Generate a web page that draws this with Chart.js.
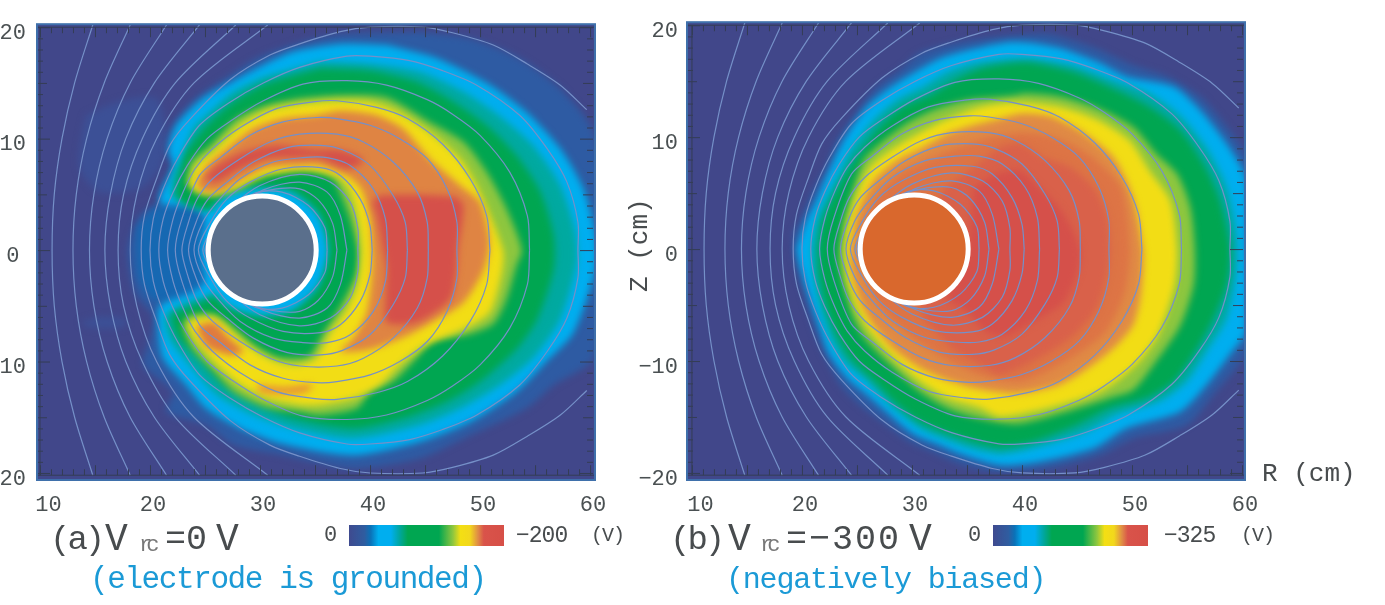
<!DOCTYPE html>
<html>
<head>
<meta charset="utf-8">
<script src="https://cdn.jsdelivr.net/npm/chart.js@4"></script>
<style>
  body { margin: 0; background: #fff; width: 1385px; height: 605px; overflow: hidden; position: relative; }
  canvas { position: absolute; }
  .t { position: absolute; font-family: "Liberation Mono", monospace; color: #484c4e; line-height: 40px; height: 40px; white-space: pre; }
  .blue { color: #1b9ad6; }
</style>
</head>
<body>
<canvas id="panelA" style="left:0;top:0" width="620" height="530"></canvas>
<canvas id="panelB" style="left:625px;top:0" width="660" height="530"></canvas>
<canvas id="barA" style="left:349px;top:525px" width="155" height="21"></canvas>
<canvas id="barB" style="left:993px;top:525px" width="155" height="21"></canvas>

<div class="t" style="left:50px;top:520px;font-size:34px;letter-spacing:-3px">(a)</div>
<div class="t" style="left:105px;top:520px;font-size:38px">V</div>
<div class="t" style="left:139px;top:526px;font-size:22px;letter-spacing:-6px;color:#777">rc</div>
<div class="t" style="left:165px;top:520px;font-size:35px">=0</div>
<div class="t" style="left:216px;top:520px;font-size:38px">V</div>
<div class="t" style="left:324px;top:516px;font-size:22px">0</div>
<div class="t" style="left:516px;top:516px;font-size:23px;letter-spacing:-1px">−200</div>
<div class="t" style="left:591px;top:516px;font-size:20px;letter-spacing:-1px">(V)</div>
<div class="t blue" style="left:90px;top:560px;font-size:31px;letter-spacing:-1.4px">(electrode is grounded)</div>

<div class="t" style="left:670px;top:520px;font-size:34px;letter-spacing:-3px">(b)</div>
<div class="t" style="left:728px;top:520px;font-size:38px">V</div>
<div class="t" style="left:760px;top:526px;font-size:22px;letter-spacing:-6px;color:#777">rc</div>
<div class="t" style="left:786px;top:520px;font-size:35px;letter-spacing:2px">=−300</div>
<div class="t" style="left:909px;top:520px;font-size:38px">V</div>
<div class="t" style="left:968px;top:516px;font-size:22px">0</div>
<div class="t" style="left:1164px;top:516px;font-size:23px;letter-spacing:-1px">−325</div>
<div class="t" style="left:1241px;top:516px;font-size:20px;letter-spacing:-1px">(V)</div>
<div class="t blue" style="left:726px;top:560px;font-size:30px;letter-spacing:-1.2px">(negatively biased)</div>

<div class="t" style="left:1262px;top:454px;font-size:26px">R (cm)</div>
<div class="t" style="left:590px;top:222px;width:100px;font-size:26px;transform:rotate(-90deg);transform-origin:50% 50%">Z (cm)</div>

<script>
const rTicks = [10, 20, 30, 40, 50, 60];
const zTicks = [20, 10, 0, -10, -20];
const zLabelsA = ['20', '10', '0', '10', '20'];
const zLabelsB = ['20', '10', '0', '\u221210', '\u221220'];
const electrodeCentre = [[30.2, 0]];
const electrodeColourA = '#5a6f8c';
const electrodeColourB = '#d9682d';

// flux surfaces, upper half only, left crossing first. same for both panels
const fluxLines = [
  [[11.1,0],[11.3,5],[12,10],[13.15,15],[14.8,20.2]],
  [[13,0],[13.3,5],[14.24,10],[15.84,15],[18.2,20.2]],
  [[14.5,0],[14.9,5],[16.1,10],[18.2,15],[21.5,20.2]],
  [[15.9,0],[16.4,5],[17.8,10],[20.4,15],[24.5,20.2]],
  [[17.1,0],[17.6,5],[19.3,10],[22.3,15],[27.8,20.2]],
  [[18.2,0],[18.8,5],[20.6,10],[24,15],[30.7,20.2]],
  [[19.2,0],[19.5,3.1],[20.6,6.4],[21.8,9.4],[23.6,11.7],[27.3,15.3],[30.9,17.5],[33.6,18.5],[37.3,19.6],[40,20],[44.8,20],[47.5,19.5],[51.2,18.4],[54.3,16.7],[57.3,14.8],[59.7,12.6]],
  [[20,0],[20.3,2.8],[21.2,5.5],[22.5,8.2],[24.5,11.2],[27.3,13.3],[30.3,15],[33.6,16.4],[37.9,17.4],[40,17.4],[43.6,17],[46.6,16.1],[49.7,14.8],[53.6,12.1],[56.1,9.1],[57.9,6.1],[58.9,2.5],[58.9,0]],
  [[20.8,0],[21.2,2.8],[22.1,5.2],[23.4,7.6],[25.2,10],[27.5,11.7],[30.3,13.4],[33.9,14.9],[37.9,15.2],[41.5,14.8],[45.2,13.5],[47.5,12.2],[50,10.3],[52.7,7],[54.3,3.1],[54.5,0]],
  [[21.6,0],[22.1,2.8],[23,5.2],[24.1,7.3],[25.7,9.1],[28.2,11],[31.5,12.7],[34.8,13.3],[37,13.4],[40.6,12.8],[43.4,11.8],[46.6,9.5],[49.1,6.4],[50.6,3.1],[50.9,0]],
  [[22.3,0],[22.9,2.8],[24.5,6.7],[26.4,8.3],[29.1,10.3],[32.1,11.5],[35.2,11.9],[37,11.8],[40,11.2],[42.7,10],[45.2,8.2],[47,5.5],[47.9,2.5],[47.9,0]],
  [[22.9,0],[23.5,2.5],[24.3,4.6],[25.7,6.4],[28.2,8.2],[30.9,9.7],[33.6,10.4],[37,10.4],[39.4,9.7],[42.1,7.9],[44.3,5.2],[45.2,2.5],[45.3,0]],
  [[23.5,0],[24.3,2.8],[25.3,4.6],[27,6.1],[29.4,7.9],[32.5,9.2],[35.5,9.4],[37.5,9],[40,7.6],[42.1,4.9],[43.2,2.5],[43.4,0]],
  [[24,0],[24.8,2.5],[26.1,4.3],[28.2,6.4],[31.2,7.9],[33.9,8.3],[36.1,8.3],[38.2,7.6],[40.3,5.5],[41.4,2.8],[41.6,0]],
  [[24.4,0],[25.5,2.5],[27,4.6],[29.1,6.1],[32.1,7.3],[35.5,7.4],[37.3,6.7],[39.1,4.6],[40,2.2],[40.2,0]],
  [[24.8,0],[25.9,2.2],[27.5,4],[30,5.8],[33.6,6.8],[36.4,6.1],[38.2,4.3],[38.9,1.9],[38.9,0]],
  [[25,0],[26,1.9],[27.9,3.7],[30.3,5.4],[33.6,6.1],[36.1,5.2],[37.3,3.1],[37.9,0]],
  [[25.2,0],[26.5,2.5],[28.5,4.6],[31,5.4],[33.6,5.5],[35.3,4.5],[36.6,2.4],[37,0]],
  [[25.1,0],[27,3],[29.5,5.1],[32,5.2],[34.4,4],[35.9,2],[36.1,0]]
];

// colour band outlines in (R, Z), outermost first
const aFaintUp = [[14.2,12.1],[17,13.3],[20.6,13.6],[21.5,10],[20.9,7.3],[19.1,5.5],[15.4,5.2],[13.6,7.3],[13.8,10.3]];
const aFaintDown = [[13.6,-6.5],[15.4,-6],[17.9,-6.2],[17.6,-6.9],[14.8,-7]];
const aBlue = [[44.5,19.6],[49.1,19],[53.6,17.2],[57.3,14.5],[60.3,10.6],[61.5,0],[60.3,-9.7],[56.7,-12.1],[54.2,-14.2],[48.5,-16.9],[44.5,-18.7],[38.5,-19.6],[32.1,-18.4],[27.6,-17.5],[25.1,-15.7],[21.5,-14.5],[22.1,-12.7],[19.4,-10.3],[20,-8],[20.3,-5.9],[18.8,-4.1],[18.2,-2],[18,0],[18.3,1.3],[19.1,3.1],[20.8,4.3],[20.9,5.5],[22.1,7.6],[21.5,9],[22.1,11.2],[24.2,13.6],[27,15.5],[29.7,17.2],[33.6,18.6],[37.3,19.4]];
const aLeftBlue = [[18.8,2],[20.5,3.8],[24.5,3.8],[25.5,0],[24.5,-3.6],[20.5,-4.5],[19,-2.5]];
const aCyan = [[41.5,18.4],[46.1,17.2],[50.6,15],[54.2,12.4],[57.3,9.1],[59.4,5.5],[60.5,1.3],[60.5,-1.7],[58.5,-7.4],[56,-10],[53.3,-12.7],[49.1,-15.4],[44.5,-17.2],[38.5,-18.4],[32.1,-17.4],[28.2,-16],[25.1,-14.2],[23.3,-12.1],[21.2,-9.7],[20.8,-7.4],[20.9,-5],[24,-3.7],[25.5,-2.2],[25.2,0],[25.5,2.2],[24,3.8],[20.9,4.3],[22.1,7.6],[21.7,9],[22.4,11.2],[24.8,13.6],[27.3,15],[30.3,16.6],[33,17.8],[37.3,18.5]];
const aTeal = [[35.5,16.9],[40,16.7],[44.5,16],[48.5,14.2],[51.8,12],[54.8,9.4],[57.3,5.8],[58.6,1.9],[58.8,-1.1],[57.3,-6.2],[54.8,-9.7],[51.8,-12.1],[48.2,-14.2],[44.5,-15.7],[38.5,-16.9],[33,-16],[29.4,-14.8],[26.1,-13],[23.6,-10.3],[21.8,-8],[21.4,-5.9],[23.3,-4.7],[25.8,-3.8],[27,0],[25.8,3.8],[23.3,4.8],[22.1,4.6],[22.1,6.7],[22.9,8.2],[23.9,10.9],[25.8,12.7],[27.6,14.2],[30.3,15.5],[33.6,16.4]];
const aGreen = [[35.5,16.3],[40,16.1],[44.2,15.1],[47.6,13.3],[50.6,11.2],[53.3,8.5],[55.5,5.2],[56.7,1.3],[56.7,-1.7],[55.2,-6.2],[53.3,-8.9],[50,-11.8],[47,-13.6],[43,-15.1],[38.5,-16],[33,-15.1],[29.4,-13.6],[26.7,-12.1],[24.5,-9.7],[22.7,-8],[22,-5.9],[23.9,-5],[26,-3.9],[27.3,0],[26.1,3.1],[23.3,4],[22.4,4.9],[22.9,7.6],[23.3,8.8],[25.2,11.2],[27.6,13.3],[30.3,14.8],[33.6,15.8]];
const aHalo = [[24.6,0],[25.2,-3],[27,-5],[30,-5.9],[33,-5.4],[35.3,-3.2],[36.2,0],[35.3,3.2],[33,5.2],[30,5.6],[27,5],[25.2,3]];
const aLime = [[23.3,6],[23.8,7.9],[25.5,9.4],[27.9,11.8],[30.6,13],[33.6,13.6],[37.3,13.9],[41.5,13.7],[45.4,11.5],[48.5,9.7],[50.6,7],[52.4,3.7],[53.8,0],[53.3,-1.4],[52.4,-4.4],[51.2,-6.6],[48.8,-7.6],[45.8,-8.1],[44.2,-9.7],[42.1,-11.8],[40,-12.7],[38.8,-14.2],[35.5,-14.8],[33.6,-14.5],[30.6,-14.1],[27.6,-12.7],[25.8,-10.9],[23.9,-8.9],[23,-6.8],[23.6,-5.9],[25.8,-5.8],[27.6,-7],[29.4,-8.5],[31.5,-9.6],[33,-9.7],[34.5,-9.5],[35.8,-7.4],[37,-5.6],[38,-3.8],[38.8,-2],[38.9,0],[38.2,2.8],[37.4,4.9],[36.7,6.4],[35.5,7],[33.6,7.4],[30.6,7],[28.8,6.2],[28.2,5.6],[25.8,4.9],[24.2,5.2]];
const aYellow = [[23.6,6],[24.2,7.6],[25.8,8.9],[28.2,11.2],[30.6,12.5],[33.6,13.1],[37.3,13.4],[40,13.3],[42.4,12.5],[45.4,10.6],[48.2,8.2],[50,5.2],[52.1,0],[52,-2],[50.9,-5.6],[48.5,-7.1],[45.1,-8.5],[42.7,-10.3],[40.9,-12.1],[38.5,-13.3],[35.5,-13.9],[33.6,-13.9],[30.6,-13.3],[28.2,-12.1],[26.1,-10.3],[24.2,-8.2],[23.5,-6.5],[25.8,-6],[27.9,-7.7],[29.7,-9.1],[31.5,-10],[33.3,-10.3],[35.1,-9.7],[36.4,-7.4],[37.9,-5.3],[38.9,-2.9],[39.2,0],[38.9,2.8],[38.2,5.2],[37.3,6.4],[35.5,7],[33.6,7.1],[30.6,6.7],[28.5,5.8],[25.8,5],[24.2,5.3]];
const aOrange = [[24.2,6],[25.2,7.6],[27,9.1],[29.4,10.9],[32.1,11.8],[35.1,12.1],[37.3,12.5],[40.6,12.1],[43,10.9],[45.4,8.2],[48.2,5.8],[50,4.3],[50.8,1.3],[50.8,0],[50.3,-1.9],[48.5,-4.7],[46.1,-6.2],[43.3,-7.7],[40,-8.9],[37.3,-9.1],[38.5,-7.9],[39.7,-5.6],[40.2,-1.9],[40.2,0],[40,2.8],[39.2,5.5],[37.9,6.7],[35.5,7.6],[33.6,7.6],[30.6,7.4],[28.5,6.4],[26.4,5.3],[24.8,5.3]];
const aOrangeArm = [[24.2,-6.8],[25.8,-6.5],[27,-7.7],[28.5,-9.1],[27.3,-9.4],[25.1,-8.6]];
const aOrangeStripe = [[29.7,-12.1],[32.4,-12.3],[34.8,-12.1],[34.2,-12.7],[32.1,-12.9],[30,-12.7]];
const aRed = [[40.2,4.3],[40.9,4.9],[47.6,4.8],[48.5,4],[48,0],[47.9,-1.7],[47.3,-4.4],[44.2,-6.5],[41.5,-6.5],[41.4,-4.7],[41.5,-1.7],[41.2,0],[40.6,3.1]];
const aRedArm = [[24.9,6.4],[26.1,7.6],[28.5,8.8],[31.5,9.4],[35.1,9],[37,9],[38.8,8.5],[39.4,7.9],[37.9,7.3],[35.5,8.2],[33.6,8.3],[30.6,8.2],[28.2,7.3],[26,6.1]];

// same thing for panel (b)
const bBlue = [[19.2,1.3],[20.1,3.1],[21,5.2],[22.2,7.3],[23.2,9.7],[25.3,12.7],[26.8,14.5],[28.9,16],[30.7,17.5],[33.8,18.4],[39.2,19.1],[42.5,19.2],[46.5,18],[50.1,16.4],[53.2,15.4],[56.2,13.6],[58.6,10.9],[60.4,8.2],[61.5,0],[60.4,-9.1],[57.4,-13],[55,-15.7],[50.1,-16.9],[47.1,-18.4],[42.5,-19.6],[38,-19.9],[34.7,-19.3],[31.9,-18.1],[29.8,-17.2],[27.7,-15.7],[25.3,-13.9],[23.5,-12.1],[21.9,-9.1],[21,-6.8],[20.1,-3.8],[19.4,-1.1]];
const bCyan = [[19.5,0],[20.4,2.5],[21.3,4.3],[22.2,6.4],[23.8,9.7],[25.9,12.7],[27.7,14.2],[30.1,15.7],[32.5,17],[35.3,17.8],[39.2,18.5],[43.2,18],[47.1,16.6],[49.5,15.4],[53.8,14.5],[56.2,12.4],[58.6,9.4],[60.3,6.4],[60.4,1.3],[60.3,-7.4],[58.9,-9.4],[56.8,-12.1],[54.4,-14.5],[49.5,-16],[46.5,-17.8],[41.6,-19],[38,-19.3],[34.7,-18.4],[32.5,-17.5],[30.1,-16.5],[28,-14.8],[25.9,-13],[24.1,-11.5],[22.5,-9.4],[21.6,-7],[20.6,-4],[19.8,-1.4]];
const bTeal = [[20.9,0],[21.3,2.5],[22.2,4.6],[23.2,6.4],[24.4,8.8],[26.5,11.5],[28.6,13.3],[31,14.5],[33.2,15.8],[35.6,16.6],[39.2,17],[41,17],[44.7,16.4],[48.6,15],[51.6,13.9],[54.4,11.9],[56.8,9],[58.6,5.5],[59.5,1.3],[59.5,-2],[58.6,-6.2],[56.8,-9.1],[55,-11.8],[52.5,-13.6],[48.6,-14.8],[45.9,-16.3],[41,-17.8],[38,-18.3],[35.3,-17.8],[32.8,-16.9],[30.7,-16],[28.3,-14.2],[25.9,-11.8],[23.8,-10],[22.5,-7.7],[21.6,-5],[21,-2.3]];
const bGreen = [[21.5,0],[21.9,2.5],[22.7,4.3],[23.8,6.4],[25,8.2],[27.1,10.9],[29.2,12.7],[31.6,13.7],[34.1,15.2],[36.2,16.1],[39.2,16.6],[41,16.6],[44.7,15.8],[48.6,14.2],[51.6,12.7],[54.4,10.6],[56.5,7.6],[58,4.3],[58.9,0],[58.6,-3.2],[57.4,-6.2],[55.9,-8.9],[53.8,-11.8],[51.3,-13.3],[48,-14.2],[45,-15.7],[41,-17.2],[38,-17.7],[35.6,-17.2],[32.8,-16.3],[30.7,-15.4],[28.6,-13.8],[26.5,-11.7],[24.4,-9.7],[23.2,-7.7],[22.2,-5],[21.6,-2.3]];
const bLime = [[23.4,0],[23.8,2.5],[24.7,5.5],[25.6,7.9],[27.1,9.4],[29.5,11.2],[31.9,12.4],[35,13.3],[39.2,13.7],[40.4,13.9],[43.5,13.6],[47.1,12.5],[50.1,10.9],[52.2,8.5],[54.1,6.7],[55.3,3.7],[55.7,0],[55.6,-3.2],[54.4,-6.8],[52.2,-10],[50.1,-12.6],[48,-13.3],[44.1,-14.5],[39.5,-15.6],[35.6,-15],[33.2,-14.2],[30.7,-12.7],[28.3,-10.6],[25.9,-8.2],[24.7,-6.2],[23.8,-3.2],[23.4,-1.1]];
const bYellow = [[23.9,0],[24.2,2.2],[25,4.9],[26.2,7.3],[28.3,9],[30.7,10.4],[33.2,11.6],[36.2,12.7],[39.2,13.1],[43.5,12.7],[46.8,11.6],[49.8,9.7],[51.6,7],[53.5,4.3],[54.1,0],[53.9,-3.2],[52.5,-7.4],[50.7,-10],[48.6,-11.8],[46.5,-13],[42.5,-14.2],[38,-15],[36.2,-14.2],[33.2,-13.3],[30.7,-11.8],[28.3,-9.7],[26.2,-7.4],[25,-5.3],[24.2,-2.9],[24,-1.1]];
const bOrange = [[24.4,0],[25,3.1],[26.5,6.1],[28.6,7.9],[31,9.1],[33.2,10.3],[35.3,11],[37.4,11.5],[39.8,12.1],[42.5,11.9],[45.3,10.6],[48.3,8.2],[50.1,4.6],[51,0],[51,-2],[50.7,-4.7],[50.1,-6.8],[48.6,-8.6],[46.5,-10.3],[43.5,-12.1],[39.5,-12.9],[35.6,-12.4],[33.2,-11.7],[30.7,-10.6],[28.3,-8.9],[26.5,-6.8],[25.3,-4.7],[24.5,-2]];
const bMidOrange = [[25.5,2],[27,5],[29,6.8],[31.5,8],[34,9],[37,10],[40,10.4],[43,10],[46,8.5],[49,5.5],[49.8,0],[49.3,-4],[47.5,-7.5],[44,-10],[40,-11.8],[36,-11.2],[32.5,-9.5],[29.5,-7.5],[27,-5],[25.7,-2]];
const bDeepOrange = [[33,5.5],[35.6,7.3],[38,9.1],[39.8,9.4],[41.9,8.2],[44.4,7.3],[46.5,5.5],[47.7,3.1],[48,0],[47.8,-2],[46.8,-5.3],[44.7,-7.7],[41.6,-9.7],[38,-11.2],[36.2,-10.3],[33.7,-8.9],[31.9,-7.1],[31,-6],[30.5,0]];
const bRed = [[35.6,5.5],[37.7,6.7],[39.8,7],[41.6,5.5],[43.8,3.1],[45.3,0],[45.1,-2],[43.8,-4.7],[41.6,-6.2],[38.6,-7.7],[36.8,-7.4],[34.7,-5.3],[33.2,-4.4],[35,0]];

const navy = '#41478a';
const bandsA = [
  [aFaintUp, '#3c5096'], [aFaintDown, '#3c5096'], [aBlue, '#2e5ba3'], [aLeftBlue, '#1668b2'],
  [aCyan, '#00aeef'], [aTeal, '#00a9a0'], [aGreen, '#00a651'], [aHalo, '#00aeef'],
  [aLime, '#8dc63f'], [aYellow, '#f2dd15'], [aOrange, '#df8443'], [aOrangeArm, '#df7a40'],
  [aOrangeStripe, '#e58a3a'], [aRed, '#d5504a'], [aRedArm, '#d5504a']
];
const bandsB = [
  [bBlue, '#2e5ba3'], [bCyan, '#00aeef'], [bTeal, '#00a9a0'], [bGreen, '#00a651'],
  [bLime, '#8dc63f'], [bYellow, '#f2dd15'], [bOrange, '#e08a45'], [bMidOrange, '#dd7445'],
  [bDeepOrange, '#d9614a'], [bRed, '#d5504a']
];
const barStops = [[0,'#3f4a8f'],[0.1,'#2f5da0'],[0.14,'#0a72b8'],[0.19,'#00aeef'],[0.27,'#00aeef'],[0.33,'#00a69a'],[0.38,'#00a651'],[0.58,'#00a651'],[0.67,'#8dc63f'],[0.72,'#f4df13'],[0.78,'#f2d81c'],[0.83,'#e08f45'],[0.87,'#d9534a'],[1,'#d64f47']];

const toXY = pts => pts.map(p => ({ x: p[0], y: p[1] }));

// lower half is the mirror of the upper one
function mirrored(half) {
  const lower = half.slice().reverse().map(p => [p[0], -p[1]]);
  return lower.concat(half.slice(1));
}

function ticksPlugin() {
  return {
    id: 'frame',
    beforeDraw(chart) {
      const { ctx, chartArea: a } = chart;
      ctx.fillStyle = navy;
      ctx.fillRect(a.left, a.top, a.width, a.height);
      ctx.filter = 'blur(3.5px)';
    },
    beforeDatasetsDraw(chart) { chart.ctx.filter = 'none'; },
    afterDatasetsDraw(chart) {
      const { ctx, chartArea: a, scales: { x, y } } = chart;
      ctx.save();
      ctx.strokeStyle = '#343d55';
      ctx.lineWidth = 1;
      const l = x.getPixelForValue(10);
      const t = y.getPixelForValue(20), b = y.getPixelForValue(-20.2);
      ctx.beginPath();
      ctx.moveTo(a.left, t); ctx.lineTo(a.right, t);
      ctx.moveTo(a.left, b); ctx.lineTo(a.right, b);
      ctx.moveTo(l, t); ctx.lineTo(l, b);
      for (let v = 10; v <= 60; v++) {
        const px = x.getPixelForValue(v) + 0.5;
        const len = v % 5 === 0 ? 10 : 6;
        ctx.moveTo(px, t); ctx.lineTo(px, t + len);
        ctx.moveTo(px, b); ctx.lineTo(px, b - len);
      }
      for (let v = -20; v <= 20; v++) {
        const py = y.getPixelForValue(v) + 0.5;
        const len = v % 10 === 0 ? 13 : (v % 5 === 0 ? 10 : 6);
        ctx.moveTo(a.left, py); ctx.lineTo(a.left + len, py);
        ctx.moveTo(a.right - 2, py); ctx.lineTo(a.right - 2 - len, py);
      }
      ctx.stroke();
      ctx.strokeStyle = '#3f70ab';
      ctx.lineWidth = 2;
      ctx.strokeRect(a.left, a.top, a.width, a.height);
      ctx.restore();
    }
  };
}

function makePanel(id, bands, zLabels, electrodeColour, xMin, xMax, axisWidth, rightPad, crossAlign, zPad) {
  const datasets = [{
    data: toXY(electrodeCentre),
    pointRadius: 54,
    pointBorderWidth: 5,
    pointBackgroundColor: electrodeColour,
    pointBorderColor: '#ffffff',
    showLine: false
  }];
  fluxLines.forEach(half => {
    datasets.push({
      data: toXY(mirrored(half)),
      showLine: true,
      pointRadius: 0,
      borderWidth: 1.2,
      borderColor: '#7590c8',
      tension: 0.3,
      fill: false
    });
  });
  // filler paints last dataset first, so inner bands go before outer ones
  bands.slice().reverse().forEach(b => {
    datasets.push({
      data: toXY(b[0].concat([b[0][0]])),
      showLine: true,
      pointRadius: 0,
      borderWidth: 0,
      tension: 0.25,
      fill: 'shape',
      backgroundColor: b[1]
    });
  });

  return new Chart(document.getElementById(id), {
    type: 'scatter',
    data: { datasets },
    plugins: [ticksPlugin()],
    options: {
      responsive: false,
      animation: false,
      capBezierPoints: false,
      layout: { autoPadding: false, padding: { top: 22, right: rightPad, left: 0, bottom: 0 } },
      plugins: { legend: { display: false }, tooltip: { enabled: false }, filler: { drawTime: 'beforeDatasetsDraw' } },
      scales: {
        x: {
          type: 'linear', min: xMin, max: xMax,
          grid: { display: false, drawTicks: false }, border: { display: false },
          afterBuildTicks: s => { s.ticks = rTicks.map((v, i) => ({ value: i === 0 ? v + 0.5 : v })); },
          afterFit: s => { s.height = 50; },
          ticks: {
            z: 1, maxRotation: 0, autoSkip: false, padding: 12, labelOffset: 3,
            color: '#4a5052', font: { family: 'Liberation Mono', size: 22 },
            callback: (v, i) => String(rTicks[i])
          }
        },
        y: {
          type: 'linear', min: -20.63, max: 20.27,
          grid: { display: false, drawTicks: false }, border: { display: false },
          afterBuildTicks: s => { s.ticks = zTicks.map(v => ({ value: v })); },
          afterFit: s => { s.width = axisWidth; },
          ticks: {
            z: 1, autoSkip: false, padding: zPad, labelOffset: 6, crossAlign,
            color: '#4a5052', font: { family: 'Liberation Mono', size: 22 },
            callback: (v, i) => zLabels[i]
          }
        }
      }
    }
  });
}

function makeBar(id, value) {
  return new Chart(document.getElementById(id), {
    type: 'bar',
    data: {
      labels: [''],
      datasets: [{
        data: [value],
        barPercentage: 1,
        categoryPercentage: 1,
        backgroundColor: c => {
          const g = c.chart.ctx.createLinearGradient(0, 0, c.chart.width, 0);
          barStops.forEach(s => g.addColorStop(s[0], s[1]));
          return g;
        }
      }]
    },
    options: {
      indexAxis: 'y', responsive: false, animation: false,
      plugins: { legend: { display: false }, tooltip: { enabled: false } },
      scales: { x: { display: false, min: 0, max: value }, y: { display: false } }
    }
  });
}

makePanel('panelA', bandsA, zLabelsA, electrodeColourA, 9.73, 60.45, 37, 25, 'center', 11);
makePanel('panelB', bandsB, zLabelsB, electrodeColourB, 9.55, 60.27, 62, 40, 'near', 9);
makeBar('barA', 200);
makeBar('barB', 325);
</script>
</body>
</html>
